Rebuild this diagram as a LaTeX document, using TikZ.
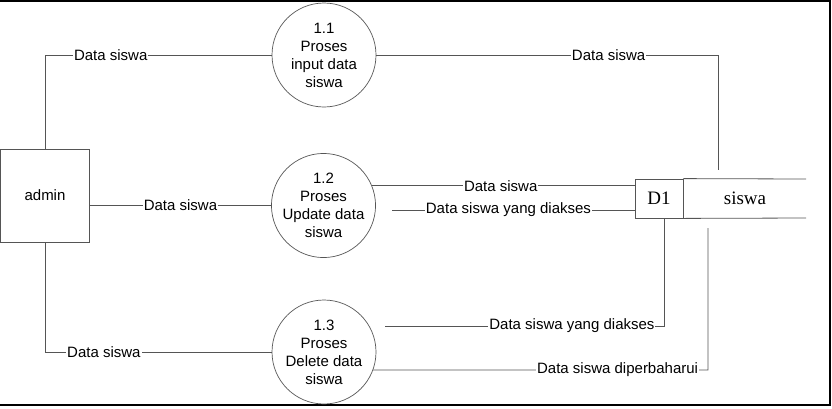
\documentclass[tikz,border=0pt]{standalone}
\usepackage{fontspec}
\setmainfont{Liberation Sans}
\newfontfamily\storefont{Liberation Serif}
\usepackage{tikz}
\usetikzlibrary{positioning, calc}
\definecolor{LineGray}{RGB}{85, 85, 85}

\begin{document}
\begin{tikzpicture}[
    x=1pt, y=-1pt,
    font=\fontsize{15}{18}\selectfont,
    flow/.style={draw=LineGray, line width=0.8pt},
    process/.style={circle, draw=LineGray, line width=0.7pt, minimum size=104pt, inner sep=0pt, align=center},
    entity/.style={rectangle, draw=LineGray, line width=0.8pt, minimum width=89pt, minimum height=93pt, inner sep=0pt},
    storeid/.style={rectangle, draw=LineGray, line width=0.8pt, minimum width=48pt, minimum height=39pt, inner sep=0pt, font=\storefont\fontsize{19}{22}\selectfont},
    lbl/.style={fill=white, inner sep=1pt}
]
    \useasboundingbox (0,0) rectangle (832,408);
    % Frame
    \draw[line width=1.4pt] (0,1) -- (830,1) -- (830,405) -- (0,405);

    % Entity and processes
    \node[entity] (admin) at (45,195.5) {admin};
    \node[process] (p11) at (324,55) {1.1\\Proses\\input data\\siswa};
    \node[process] (p12) at (323.5,205.5) {1.2\\Proses\\Update data\\siswa};
    \node[process] (p13) at (324,352) {1.3\\Proses\\Delete data\\siswa};

    % Data store
    \node[storeid] (d1) at (659,198.5) {D1};
    \node[font=\storefont\fontsize{19}{22}\selectfont] (dsname) at (745,198) {siswa};
    \draw[flow] (d1.north east) -- (806,179);
    \draw[flow] (d1.south east) -- (806,218);

    % Free ends and bends
    \coordinate (b11) at (718,55);
    \coordinate (e11) at (718,170);
    \coordinate (s12) at (392,210);
    \coordinate (s13) at (385,326);
    \coordinate (b13a) at (664,326);
    \coordinate (b13b) at (708,370);
    \coordinate (e13b) at (708,228);

    % admin to processes
    \draw[flow] (admin.north) -- (admin.north |- p11.west)
        -- node[lbl, pos=0.29] {Data siswa} (p11.west);
    \draw[flow] (p12.west -| admin.east) -- node[lbl] {Data siswa} (p12.west);
    \draw[flow] (admin.south) -- (admin.south |- p13.west)
        -- node[lbl, pos=0.26] {Data siswa} (p13.west);

    % processes to store
    \draw[flow] (p11.east) -- node[lbl, pos=0.68] {Data siswa} (b11) -- (e11);
    \draw[flow] (p12.22) -- node[lbl, pos=0.49] {Data siswa} (d1.west |- p12.22);
    \draw[flow] (s12) -- node[lbl, pos=0.48] {Data siswa yang diakses} (d1.west |- s12);
    \draw[flow] (s13) -- node[lbl, pos=0.67] {Data siswa yang diakses} (b13a) -- (b13a |- d1.south);
    \draw[flow] (p13.-20) -- node[lbl, pos=0.73] {Data siswa diperbaharui} (b13b) -- (e13b);
\end{tikzpicture}
\end{document}
